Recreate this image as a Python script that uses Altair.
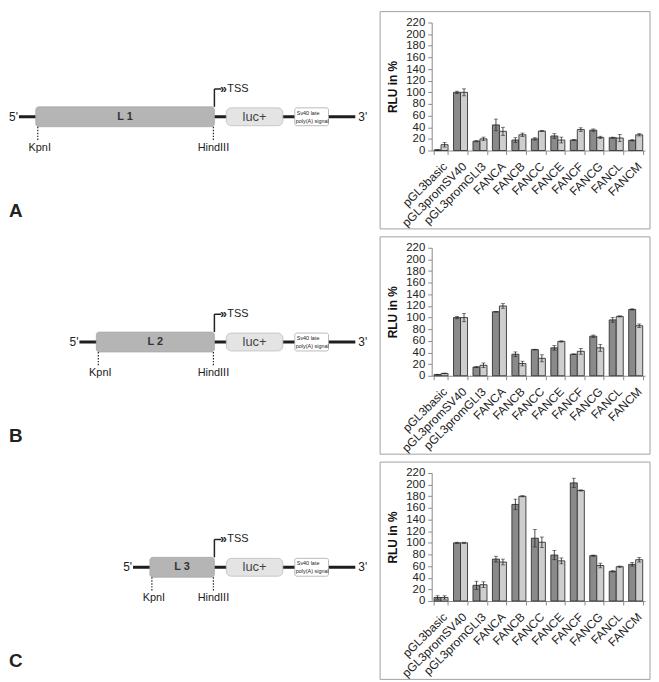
import altair as alt
import pandas as pd

# ---------------- data ----------------
categories = ["pGL3basic", "pGL3promSV40", "pGL3promGLI3", "FANCA", "FANCB",
              "FANCC", "FANCE", "FANCF", "FANCG", "FANCL", "FANCM"]
series_names = ["Series 1", "Series 2"]

a_dark = [1, 100, 16, 44, 18, 20, 25, 18, 35, 22, 17.5]
a_dark_err = [0.5, 2, 1, 10, 4, 2, 4, 1, 2, 1, 1]
a_light = [10, 100, 20, 33, 27, 33.5, 18, 36, 22.5, 21.5, 27]
a_light_err = [4, 6, 3, 7, 3, 1, 5, 3, 2, 6, 2]

b_dark = [2, 100, 15, 110, 37, 45, 48, 37, 68, 96, 114]
b_dark_err = [0.5, 2, 1, 0.5, 4, 0.5, 4, 0.5, 2, 4, 1]
b_light = [4, 100, 18, 120, 21, 30, 59, 42, 48, 102, 86]
b_light_err = [0.5, 7, 4, 4, 4, 6, 1, 5, 6, 1, 3]

c_dark = [6, 100, 27, 72, 166, 108, 79, 203, 78, 51, 63]
c_dark_err = [3, 1, 7, 5, 9, 15, 8, 8, 1, 1, 3]
c_light = [6, 100, 28, 67, 180, 101, 69, 190, 61, 59, 71]
c_light_err = [3, 1, 5, 5, 1, 9, 5, 1, 4, 1, 4]

y_ticks = list(range(0, 221, 20))

panel_letters = ["A", "B", "C"]
insert_names = ["L 1", "L 2", "L 3"]
insert_start = [30, 91, 145]          # diagram units
insert_end = 210
luc_span = [222, 279]
sv40_span = [291, 325]
backbone_end = 352

FONT = "Liberation Sans"
DARK = "#8a8a8a"
LIGHT = "#cecece"

PW, PH = 215, 129   # bar plot area


def bar_panel(dark, dark_err, light, light_err):
    rows = []
    for i, c in enumerate(categories):
        rows.append(dict(cat=c, s=series_names[0], v=dark[i],
                         lo=dark[i] - dark_err[i], hi=dark[i] + dark_err[i]))
        rows.append(dict(cat=c, s=series_names[1], v=light[i],
                         lo=light[i] - light_err[i], hi=light[i] + light_err[i]))
    df = pd.DataFrame(rows)
    base = alt.Chart(df)
    xax = alt.Axis(title=None, labelAngle=-45, tickBand="extent", labelFontSize=12,
                   labelColor="#222", domainColor="#8a8a8a", tickColor="#8a8a8a",
                   tickSize=4, labelPadding=6, labelOverlap=False)
    x = alt.X("cat:N", sort=categories,
              scale=alt.Scale(paddingInner=0.28, paddingOuter=0.12), axis=xax)
    xo = alt.XOffset("s:N", sort=series_names,
                     scale=alt.Scale(paddingInner=0, paddingOuter=0))
    yax = alt.Axis(title="RLU in %", values=y_ticks, grid=False, labelFontSize=11.5,
                   labelColor="#222", titleFontSize=12, titleFontWeight="bold",
                   titleColor="#111", domainColor="#8a8a8a", tickColor="#8a8a8a",
                   tickSize=4, labelPadding=3, titlePadding=6, labelOverlap=False,
                   labelFlush=False)
    ysc = alt.Scale(domain=[0, 220], nice=False)
    bars = base.mark_bar(stroke="#333333", strokeWidth=0.9).encode(
        x=x, xOffset=xo,
        y=alt.Y("v:Q", scale=ysc, axis=yax),
        color=alt.Color("s:N", scale=alt.Scale(domain=series_names, range=[DARK, LIGHT]),
                        legend=None),
    )
    err = base.mark_rule(color="#222", strokeWidth=0.8).encode(
        x=x, xOffset=xo, y=alt.Y("lo:Q", scale=ysc, axis=yax), y2="hi:Q")
    cap_lo = base.mark_tick(color="#222", size=4, thickness=0.8).encode(
        x=x, xOffset=xo, y=alt.Y("lo:Q", scale=ysc, axis=yax))
    cap_hi = base.mark_tick(color="#222", size=4, thickness=0.8).encode(
        x=x, xOffset=xo, y=alt.Y("hi:Q", scale=ysc, axis=yax))
    frame = alt.Chart(pd.DataFrame({"k": [0]})).mark_rect(
        fill="white", fillOpacity=0, stroke="#a0a0a0", strokeWidth=1).encode(
        x=alt.value(-52), x2=alt.value(PW + 5), y=alt.value(-11), y2=alt.value(PH + 79))
    return alt.layer(frame, bars, err, cap_lo, cap_hi).properties(width=PW, height=PH)


def diagram(i):
    s = insert_start[i]
    L = 95
    xs = alt.Scale(domain=[2, 372], nice=False, zero=False)
    ys = alt.Scale(domain=[0, PH], nice=False, zero=False, reverse=True)

    def X(f):
        return alt.X(f, type="quantitative", scale=xs, axis=None)

    def Y(f):
        return alt.Y(f, type="quantitative", scale=ys, axis=None)

    backbone = alt.Chart(pd.DataFrame({"x": [s - 17], "x2": [backbone_end], "y": [L]})).mark_rule(
        color="#1e1e1e", strokeWidth=3).encode(x=X("x"), x2="x2", y=Y("y"))
    insert = alt.Chart(pd.DataFrame({"x": [s], "x2": [insert_end], "y": [L - 10], "y2": [L + 10]})).mark_rect(
        fill="#b5b5b5", stroke="#a8a8a8", strokeWidth=0.8, cornerRadius=3).encode(
        x=X("x"), x2="x2", y=Y("y"), y2="y2")
    luc = alt.Chart(pd.DataFrame({"x": [luc_span[0]], "x2": [luc_span[1]], "y": [L - 9], "y2": [L + 9]})).mark_rect(
        fill="#e4e4e4", stroke="#bdbdbd", strokeWidth=0.8, cornerRadius=5).encode(
        x=X("x"), x2="x2", y=Y("y"), y2="y2")
    sv = alt.Chart(pd.DataFrame({"x": [sv40_span[0]], "x2": [sv40_span[1]], "y": [L - 9], "y2": [L + 9]})).mark_rect(
        fill="white", stroke="#a9a9a9", strokeWidth=0.8, cornerRadius=2).encode(
        x=X("x"), x2="x2", y=Y("y"), y2="y2")
    tss_v = alt.Chart(pd.DataFrame({"x": [insert_end], "y": [L - 28], "y2": [L - 10]})).mark_rule(
        color="#222", strokeWidth=1.5).encode(x=X("x"), y=Y("y"), y2="y2")
    tss_h = alt.Chart(pd.DataFrame({"x": [insert_end], "x2": [insert_end + 7], "y": [L - 28]})).mark_rule(
        color="#222", strokeWidth=1.5).encode(x=X("x"), x2="x2", y=Y("y"))
    dashes = alt.Chart(pd.DataFrame({"x": [s + 2, insert_end - 1], "y": [L + 10, L + 10], "y2": [L + 25, L + 25]})).mark_rule(
        color="#222", strokeWidth=1.2, strokeDash=[1.5, 1.5]).encode(x=X("x"), y=Y("y"), y2="y2")

    def texts(df, align, weight="normal", color="#222"):
        return alt.Chart(df).mark_text(align=align, baseline="middle", font=FONT,
                                       fontWeight=weight, color=color).encode(
            x=X("x"), y=Y("y"), text="t:N", size=alt.Size("sz:Q", scale=None, legend=None))

    center_df = pd.DataFrame({
        "t": ["KpnI", "HindIII"],
        "x": [s + 4, insert_end - 1],
        "y": [L + 31, L + 31],
        "sz": [11, 11]})
    luc_df = pd.DataFrame({"t": ["luc+"], "x": [sum(luc_span) / 2], "y": [L], "sz": [13]})
    left_df = pd.DataFrame({
        "t": ["3'", "TSS", "Sv40 late", "poly(A) signal"],
        "x": [355, 223, sv40_span[0] + 2, sv40_span[0] + 1],
        "y": [L, L - 28, L - 4, L + 4],
        "sz": [12, 11, 5.5, 5.5]})
    right_df = pd.DataFrame({"t": ["5'"], "x": [s - 18], "y": [L], "sz": [12]})
    bold_c = pd.DataFrame({"t": [insert_names[i]], "x": [(s + insert_end) / 2], "y": [L], "sz": [11]})
    bold_l = pd.DataFrame({"t": ["»", panel_letters[i]], "x": [216, 3], "y": [L - 28, 190], "sz": [12, 19]})

    return alt.layer(
        backbone, insert, luc, sv, tss_v, tss_h, dashes,
        texts(center_df, "center"), texts(luc_df, "center", color="#444"),
        texts(left_df, "left"), texts(right_df, "right"),
        texts(bold_c, "center", "bold", "#333"), texts(bold_l, "left", "bold"),
    ).properties(width=370, height=PH)


panels = [
    (a_dark, a_dark_err, a_light, a_light_err),
    (b_dark, b_dark_err, b_light, b_light_err),
    (c_dark, c_dark_err, c_light, c_light_err),
]

rows = []
for i, p in enumerate(panels):
    rows.append(alt.hconcat(diagram(i), bar_panel(*p), spacing=57, bounds="flush"))

chart = alt.vconcat(*rows, spacing=6).properties(padding=0).configure(
    font=FONT
).configure_view(stroke=None)

chart.save("out.html", embed_options={"renderer": "svg", "actions": False})
